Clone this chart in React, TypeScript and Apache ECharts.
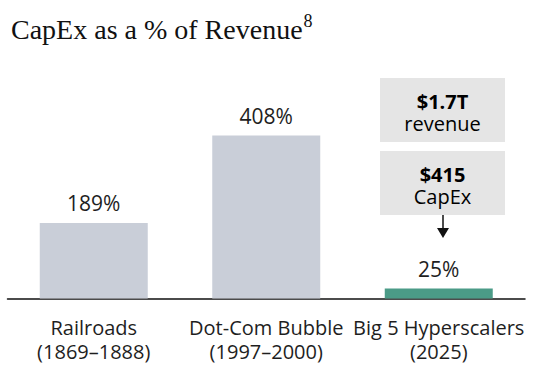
import React, { useEffect, useRef } from "react";
import * as echarts from "echarts";

const categories = ["Railroads\n(1869–1888)", "Dot-Com Bubble\n(1997–2000)", "Big 5 Hyperscalers\n(2025)"];
const values = [189, 408, 25];
const barColors = ["#c9ced8", "#c9ced8", "#4b9b87"];
const titleText = "CapEx as a % of Revenue";
const footnote = "8";
const boxTop = ["$1.7T", "revenue"];
const boxBottom = ["$415", "CapEx"];

const FONT = "'Open Sans', 'Noto Sans', sans-serif";
const TXT = "#1e1e1e";

export default function App() {
  const ref = useRef<HTMLDivElement>(null);
  useEffect(() => {
    document.body.style.margin = "0";
    const chart = echarts.init(ref.current!, null, { renderer: "svg" });
    const bx = 380, bw = 125, cx = bx + bw / 2;
    const boxRich = {
      b: { fontFamily: FONT, fontSize: 20, fontWeight: "bold", color: TXT, lineHeight: 22, align: "center" },
      n: { fontFamily: FONT, fontSize: 20, color: TXT, lineHeight: 22, align: "center" },
    };
    chart.setOption({
      animation: false,
      backgroundColor: "#ffffff",
      title: {
        text: `{t|${titleText}}{s|${footnote}}`,
        left: 6,
        top: 7,
        textStyle: {
          fontWeight: "normal",
          rich: {
            t: { fontFamily: "'Liberation Serif', serif", fontSize: 28, fontWeight: "normal", color: "#111", lineHeight: 34 },
            s: { fontFamily: "'Liberation Serif', serif", fontSize: 18, fontWeight: "normal", color: "#111", verticalAlign: "top", lineHeight: 34, padding: [0, 0, 10, 1] },
          },
        },
      },
      grid: { left: 7.5, right: 8, top: 98.75, bottom: 77.5, containLabel: false },
      xAxis: {
        type: "category",
        data: categories,
        axisLine: { show: true, lineStyle: { color: "#111", width: 1.5 } },
        axisTick: { show: false },
        axisLabel: {
          fontFamily: FONT,
          fontSize: 20,
          color: TXT,
          lineHeight: 24,
          margin: 17,
          interval: 0,
        },
      },
      yAxis: {
        type: "value",
        min: 0,
        max: 500,
        show: false,
        splitLine: { show: false },
      },
      series: [
        {
          type: "bar",
          barWidth: 108,
          data: values.map((v, i) => ({ value: v, itemStyle: { color: barColors[i] } })),
          label: {
            show: true,
            position: "top",
            distance: 9,
            formatter: "{c}%",
            fontFamily: FONT,
            fontSize: 21,
            color: TXT,
          },
        },
      ],
      graphic: [
        { type: "rect", shape: { x: bx, y: 78, width: bw, height: 64 }, style: { fill: "#e5e5e5" } },
        { type: "text", x: cx, y: 112.5, style: { text: `{b|${boxTop[0]}}\n{n|${boxTop[1]}}`, rich: boxRich, align: "center", verticalAlign: "middle" } },
        { type: "rect", shape: { x: bx, y: 151, width: bw, height: 64 }, style: { fill: "#e5e5e5" } },
        { type: "text", x: cx, y: 185, style: { text: `{b|${boxBottom[0]}}\n{n|${boxBottom[1]}}`, rich: boxRich, align: "center", verticalAlign: "middle" } },
        { type: "line", shape: { x1: 443, y1: 215, x2: 443, y2: 229 }, style: { stroke: "#111", lineWidth: 1.5 } },
        { type: "polygon", shape: { points: [[437, 228], [449, 228], [443, 238]] }, style: { fill: "#111" } },
      ],
    });
    return () => chart.dispose();
  }, []);
  return <div ref={ref} style={{ width: 533, height: 376 }} />;
}
